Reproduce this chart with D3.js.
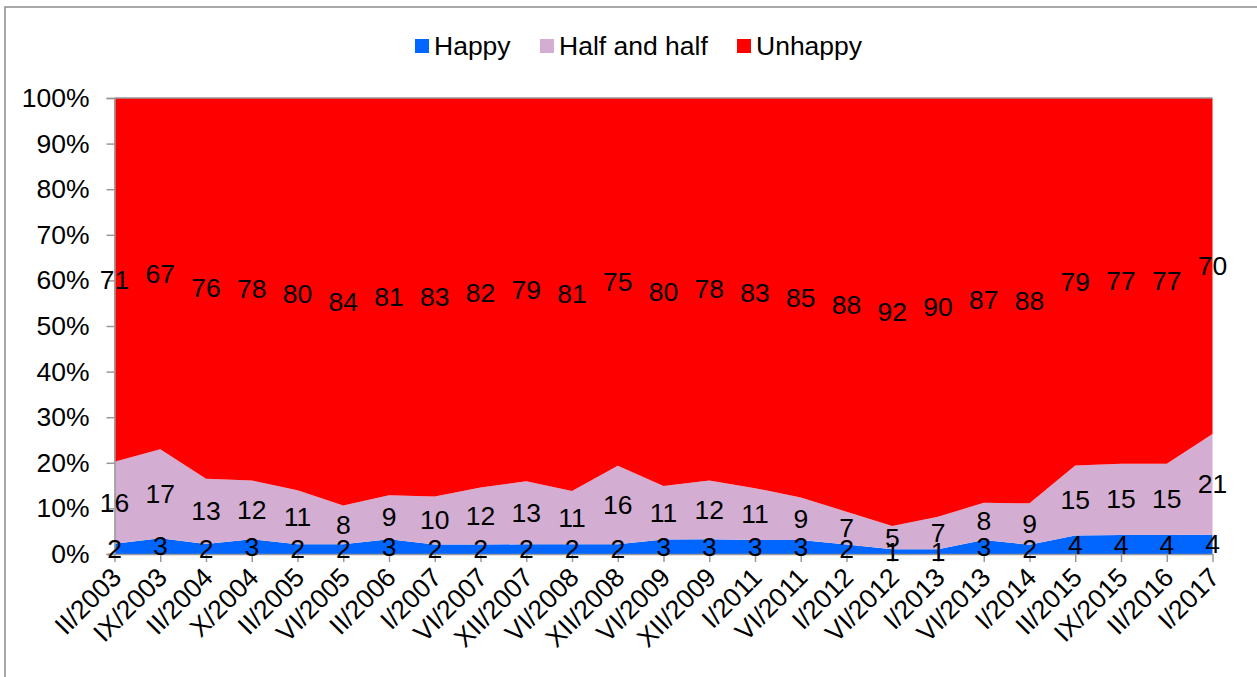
<!DOCTYPE html>
<html><head><meta charset="utf-8">
<script src="https://cdn.jsdelivr.net/npm/d3@7"></script>
<style>body{margin:0;background:#fff;}svg{display:block;font-family:"Liberation Sans",Arial,sans-serif;}</style>
</head><body>
<svg id="c" width="1257" height="677"></svg>
<script>
const categories = ["II/2003","IX/2003","II/2004","X/2004","II/2005","VI/2005","II/2006","I/2007","VI/2007","XII/2007","VI/2008","XII/2008","VI/2009","XII/2009","I/2011","VI/2011","I/2012","VI/2012","I/2013","VI/2013","I/2014","II/2015","IX/2015","II/2016","I/2017"];
const happy =   [2,3,2,3,2,2,3,2,2,2,2,2,3,3,3,3,2,1,1,3,2,4,4,4,4];
const half =    [16,17,13,12,11,8,9,10,12,13,11,16,11,12,11,9,7,5,7,8,9,15,15,15,21];
const unhappy = [71,67,76,78,80,84,81,83,82,79,81,75,80,78,83,85,88,92,90,87,88,79,77,77,70];
const seriesNames = ["Happy","Half and half","Unhappy"];
const colors = ["#0066FF","#D3AED2","#FF0000"];
const yTicks = [0,0.1,0.2,0.3,0.4,0.5,0.6,0.7,0.8,0.9,1.0];

const svg = d3.select("#c");
const L = 114.5, R = 1212.5, T = 98, B = 554;
const fs = 26.5;

// outer frame
svg.append("rect").attr("x",5).attr("y",7).attr("width",1300).attr("height",700)
  .attr("fill","none").attr("stroke","#8c8c8c").attr("stroke-width",1.5);

const data = categories.map((c,i)=>({cat:c, Happy:happy[i], "Half and half":half[i], Unhappy:unhappy[i]}));
const stack = d3.stack().keys(seriesNames).offset(d3.stackOffsetExpand);
const layers = stack(data);

const x = d3.scalePoint().domain(categories).range([L,R]);
const y = d3.scaleLinear().domain([0,1]).range([B,T]);

const area = d3.area().x((d,i)=>x(categories[i])).y0(d=>y(d[0])).y1(d=>y(d[1]));
svg.append("g").selectAll("path").data(layers).join("path")
  .attr("d",area).attr("fill",(d,i)=>colors[i]);

// top border line
svg.append("line").attr("x1",L).attr("x2",R).attr("y1",T).attr("y2",T).attr("stroke","#999").attr("stroke-width",1.5);

// axes
const yAxis = d3.axisLeft(y).tickValues(yTicks).tickFormat(d3.format(".0%")).tickSize(8).tickPadding(17);
const gy = svg.append("g").attr("transform",`translate(${L},0)`).call(yAxis);
gy.select(".domain").attr("stroke","#999").attr("stroke-width",1.5);
gy.selectAll(".tick line").attr("stroke","#999").attr("stroke-width",1.5);
gy.selectAll("text").attr("font-size",fs).attr("fill","#000").attr("font-family","Liberation Sans, Arial, sans-serif");

const xAxis = d3.axisBottom(x).tickSize(8).tickSizeOuter(0);
const gx = svg.append("g").attr("transform",`translate(0,${B})`).call(xAxis);
gx.select(".domain").attr("stroke","#999").attr("stroke-width",1.5);
gx.selectAll(".tick line").attr("stroke","#999").attr("stroke-width",1.5);
gx.selectAll("text").attr("font-size",fs).attr("fill","#000").attr("font-family","Liberation Sans, Arial, sans-serif")
  .attr("text-anchor","end").attr("dy",null).attr("y",0)
  .attr("transform","translate(8,25) rotate(-45)");

// data labels
const raw = [happy,half,unhappy];
layers.forEach((layer,k)=>{
  svg.append("g").selectAll("text").data(layer).join("text")
    .attr("x",(d,i)=>x(categories[i]))
    .attr("y",d=>y((d[0]+d[1])/2))
    .attr("text-anchor","middle").attr("dominant-baseline","central")
    .attr("font-size",fs).attr("fill","#000")
    .text((d,i)=>raw[k][i]);
});

// legend
const legX = [415,540,737];
const lg = svg.append("g");
seriesNames.forEach((n,i)=>{
  lg.append("rect").attr("x",legX[i]).attr("y",39).attr("width",14).attr("height",14).attr("fill",colors[i]);
  lg.append("text").attr("x",legX[i]+19).attr("y",46).attr("dominant-baseline","central")
    .attr("font-size",fs).attr("fill","#000").text(n);
});
</script>
</body></html>
